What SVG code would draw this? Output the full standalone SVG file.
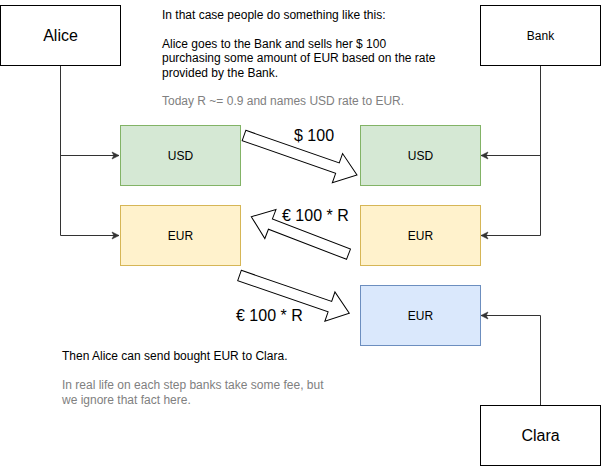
<svg xmlns="http://www.w3.org/2000/svg" width="601" height="466" viewBox="0 0 601 466">
<defs>
<style>
text{font-family:"Liberation Sans",Arial,Helvetica,sans-serif;fill:#000}
.s12{font-size:12px}
.s16{font-size:16px}
.mid{text-anchor:middle}
.grey{fill:#808080}
.box{fill:#fff;stroke:#000;stroke-width:1}
.green{fill:#d5e8d4;stroke:#82b366}
.yellow{fill:#fff2cc;stroke:#d6b656}
.blue{fill:#dae8fc;stroke:#6c8ebf}
.edge{fill:none;stroke:#333;stroke-width:1}
.flex{fill:#fff;stroke:#000;stroke-width:1;stroke-linejoin:miter}
</style>
<marker id="arr" markerUnits="userSpaceOnUse" markerWidth="10" markerHeight="10" refX="8" refY="5" orient="auto">
<path d="M1,1.5 L8,5 L1,8.5 L2.8,5 Z" fill="#333" stroke="#333" stroke-width="0.6"/>
</marker>
</defs>
<rect width="601" height="466" fill="#fff"/>

<g id="connectors">
<path class="edge" d="M60.5,65 V155.5 H119" marker-end="url(#arr)"/>
<path class="edge" d="M60.5,65 V235.5 H119" marker-end="url(#arr)"/>
<path class="edge" d="M540.5,65 V155.5 H481" marker-end="url(#arr)"/>
<path class="edge" d="M540.5,65 V235.5 H481" marker-end="url(#arr)"/>
<path class="edge" d="M540.5,405 V315.5 H481" marker-end="url(#arr)"/>
<path id="flow1" class="flex" transform="translate(244,135.5) rotate(19.27)" d="M0,-5.5 H99 V-15.5 L119.7,0 L99,15.5 V5.5 H0 Z"/>
<path id="flow2" class="flex" transform="translate(348.5,254.2) rotate(201.1)" d="M0,-5.5 H83.7 V-15.5 L104.2,0 L83.7,15.5 V5.5 H0 Z"/>
<path id="flow3" class="flex" transform="translate(239.5,275.5) rotate(19)" d="M0,-5.5 H95.6 V-15.5 L116.1,0 L95.6,15.5 V5.5 H0 Z"/>
</g>

<g id="alice"><rect class="box" x="0.5" y="5.5" width="120" height="60"/><text class="s16 mid" x="60.5" y="41">Alice</text></g>
<g id="bank"><rect class="box" x="480.5" y="5.5" width="120" height="60"/><text class="s12 mid" x="540.5" y="40">Bank</text></g>
<g id="clara"><rect class="box" x="480.5" y="405.5" width="120" height="60"/><text class="s16 mid" x="540.5" y="441">Clara</text></g>

<g id="usd-alice"><rect class="green" x="120.5" y="125.5" width="120" height="60"/><text class="s12 mid" x="180.5" y="160">USD</text></g>
<g id="eur-alice"><rect class="yellow" x="120.5" y="205.5" width="120" height="60"/><text class="s12 mid" x="180.5" y="240">EUR</text></g>
<g id="usd-bank"><rect class="green" x="360.5" y="125.5" width="120" height="60"/><text class="s12 mid" x="420.5" y="160">USD</text></g>
<g id="eur-bank"><rect class="yellow" x="360.5" y="205.5" width="120" height="60"/><text class="s12 mid" x="420.5" y="240">EUR</text></g>
<g id="eur-clara"><rect class="blue" x="360.5" y="285.5" width="120" height="60"/><text class="s12 mid" x="420.5" y="320">EUR</text></g>

<g id="labels">
<text class="s16" x="294" y="141">$ 100</text>
<text class="s16" x="282" y="221">€ 100 * R</text>
<text class="s16" x="236" y="321">€ 100 * R</text>
</g>

<g id="note-top">
<text class="s12" x="162" y="19">In that case people do something like this:</text>
<text class="s12" x="162" y="47.8">Alice goes to the Bank and sells her $ 100</text>
<text class="s12" x="162" y="62.2">purchasing some amount of EUR based on the rate</text>
<text class="s12" x="162" y="76.6">provided by the Bank.</text>
<text class="s12 grey" x="162" y="105">Today R ~= 0.9 and names USD rate to EUR.</text>
</g>

<g id="note-bottom">
<text class="s12" x="62" y="360">Then Alice can send bought EUR to Clara.</text>
<text class="s12 grey" x="62" y="389.4">In real life on each step banks take some fee, but</text>
<text class="s12 grey" x="62" y="403.8">we ignore that fact here.</text>
</g>
</svg>
